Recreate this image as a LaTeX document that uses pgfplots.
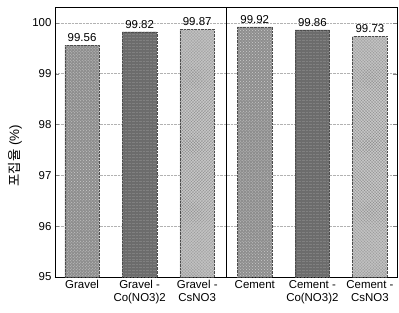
\documentclass[border=0pt]{standalone}
\usepackage{pgfplots}
\pgfplotsset{compat=1.18}
\usepackage{fontspec}
\setmainfont{Liberation Sans}
\newfontfamily\kr{Noto Sans CJK KR}
\usetikzlibrary{patterns}
\definecolor{cA}{HTML}{8E8E8E}
\definecolor{cB}{HTML}{6C6C6C}
\definecolor{cC}{HTML}{C4C4C4}
\begin{document}
\begin{tikzpicture}
\path[use as bounding box] (-55bp,-36bp) rectangle (344bp,277bp);
\begin{axis}[
  scale only axis,
  width=342bp, height=270bp,
  xmin=-0.47, xmax=5.47,
  ymin=95, ymax=100.31,
  ytick={95,96,97,98,99,100},
  xtick={0,1,2,3,4,5},
  xticklabels={Gravel, {Gravel -\\Co(NO3)2}, {Gravel -\\CsNO3}, Cement, {Cement -\\Co(NO3)2}, {Cement -\\CsNO3}},
  xticklabel style={align=center, font=\fontsize{11.5}{13}\selectfont, text depth=0pt},
  yticklabel style={font=\fontsize{11.5}{13}\selectfont},
  /pgf/number format/assume math mode=true,
  major x tick style={draw=none},
  ymajorgrids,
  grid style={densely dotted, gray!60, line width=0.5pt},
  axis line style={line width=1pt},
  ylabel={{\kr 포집율} (\%)},
  ylabel style={font=\fontsize{13.5}{14}\selectfont, anchor=center, at={(axis description cs:-0.117,0.45)}},
  ybar, bar width=0.6, bar shift=0pt,
  nodes near coords,
  nodes near coords style={font=\fontsize{11.5}{13}\selectfont, /pgf/number format/.cd, fixed, precision=2, fixed zerofill},
  tick align=inside,
  clip=false,
]
\addplot[draw=black!70, densely dotted, fill=cA, postaction={pattern=crosshatch dots, pattern color=white!60!gray}] coordinates {(0,99.56) (3,99.92)};
\addplot[draw=black!70, densely dotted, fill=cB, postaction={pattern=horizontal lines, pattern color=gray}] coordinates {(1,99.82) (4,99.86)};
\addplot[draw=black!70, densely dotted, fill=cC, postaction={pattern=crosshatch, pattern color=gray}] coordinates {(2,99.87) (5,99.73)};
\draw[line width=0.8pt] (axis cs:2.5,95) -- (axis cs:2.5,100.31);
\end{axis}
\end{tikzpicture}
\end{document}
